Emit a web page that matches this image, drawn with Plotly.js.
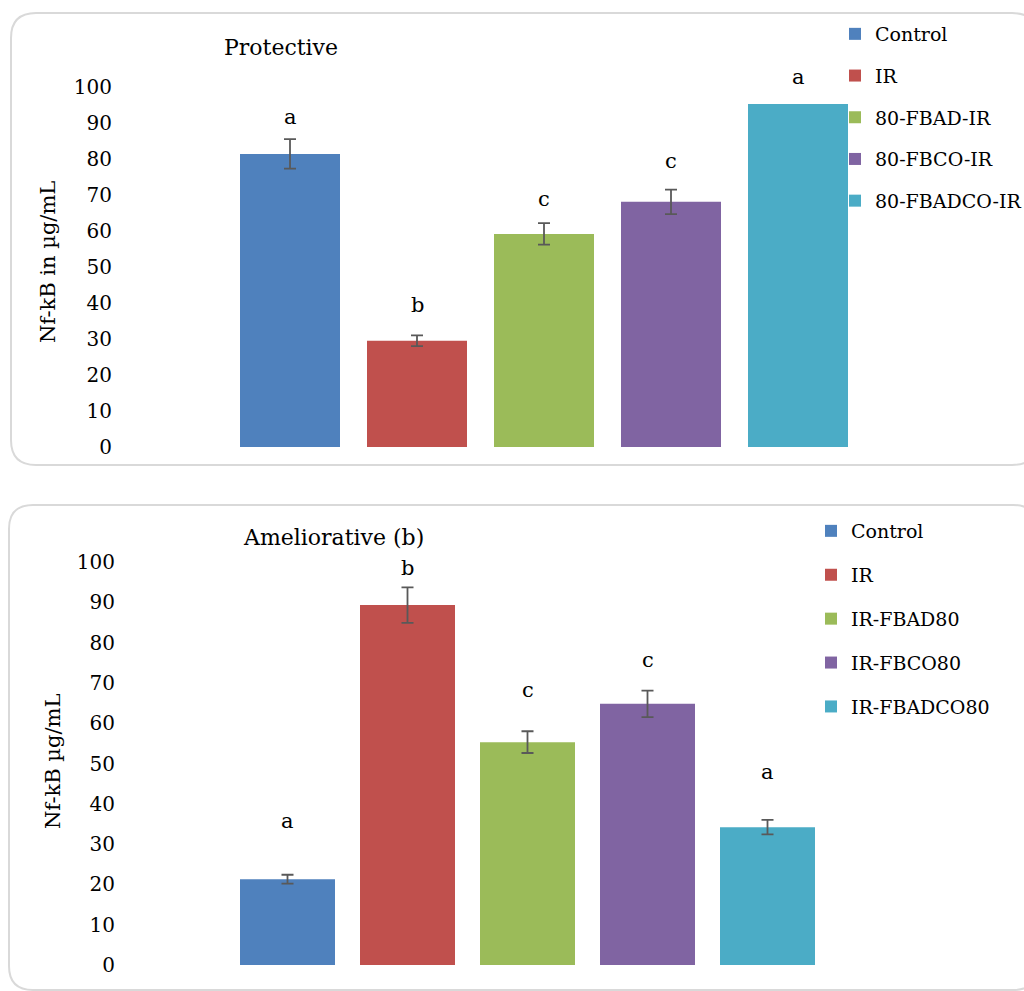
<!DOCTYPE html>
<html>
<head>
<meta charset="utf-8">
<script src="https://cdn.plot.ly/plotly-3.0.1.min.js"></script>
<style>html,body{margin:0;padding:0;background:#fff}#chart{width:1024px;height:991px}</style>
</head>
<body>
<div id="chart"></div>
<script>
// ---- data ----
const topTitle = 'Protective';
const topYTitle = 'Nf-kB in µg/mL';
const topCats = ['Control', 'IR', '80-FBAD-IR', '80-FBCO-IR', '80-FBADCO-IR'];
const topVals = [81.4, 29.5, 59.2, 68.1, 95.3];
const topErr = [4.1, 1.5, 3.0, 3.4, 0];
const topLetters = ['a', 'b', 'c', 'c', 'a'];
const topLetterY = [91.7, 39.4, 68.9, 79.4, 102.8];

const botTitle = 'Ameliorative (b)';
const botYTitle = 'Nf-kB µg/mL';
const botCats = ['Control', 'IR', 'IR-FBAD80', 'IR-FBCO80', 'IR-FBADCO80'];
const botVals = [21.3, 89.3, 55.3, 64.8, 34.2];
const botErr = [1.1, 4.4, 2.7, 3.3, 1.8];
const botLetters = ['a', 'b', 'c', 'c', 'a'];
const botLetterY = [35.7, 98.5, 68.2, 75.7, 47.9];

const yTicks = [0, 10, 20, 30, 40, 50, 60, 70, 80, 90, 100];

// ---- style ----
const colors = ['#4F81BD', '#C0504D', '#9BBB59', '#8064A2', '#4BACC6'];
const FONT = 'DejaVu Serif, Liberation Serif, serif';
const W = 1024, H = 991;
const px = x => x / W;
const py = y => 1 - y / H;

function roundRect(x0, y0, x1, y1, r) {
  const P = (x, y) => px(x) + ',' + py(y);
  return 'M' + P(x0 + r, y0) + ' L' + P(x1 - r, y0) + ' Q' + P(x1, y0) + ' ' + P(x1, y0 + r) +
    ' L' + P(x1, y1 - r) + ' Q' + P(x1, y1) + ' ' + P(x1 - r, y1) +
    ' L' + P(x0 + r, y1) + ' Q' + P(x0, y1) + ' ' + P(x0, y1 - r) +
    ' L' + P(x0, y0 + r) + ' Q' + P(x0, y0) + ' ' + P(x0 + r, y0) + ' Z';
}

const traces = [];
topCats.forEach((c, i) => {
  traces.push({
    type: 'bar', x: [c], y: [topVals[i]], name: c, xaxis: 'x', yaxis: 'y',
    width: 100 / 127, marker: {color: colors[i]},
    error_y: {type: 'data', array: [topErr[i]], visible: topErr[i] > 0, color: '#595959', thickness: 1.8, width: 6},
    legend: 'legend', legendgroup: 't' + i, hoverinfo: 'none'
  });
});
botCats.forEach((c, i) => {
  traces.push({
    type: 'bar', x: [c], y: [botVals[i]], name: c, xaxis: 'x2', yaxis: 'y2',
    width: 95 / 120, marker: {color: colors[i]},
    error_y: {type: 'data', array: [botErr[i]], visible: true, color: '#595959', thickness: 1.8, width: 6},
    legend: 'legend2', legendgroup: 'b' + i, hoverinfo: 'none'
  });
});

const annotations = [];
topCats.forEach((c, i) => annotations.push({
  xref: 'x', yref: 'y', x: c, y: topLetterY[i], text: topLetters[i], showarrow: false,
  font: {family: FONT, size: 21, color: '#000'}, yanchor: 'middle'
}));
botCats.forEach((c, i) => annotations.push({
  xref: 'x2', yref: 'y2', x: c, y: botLetterY[i], text: botLetters[i], showarrow: false,
  font: {family: FONT, size: 21, color: '#000'}, yanchor: 'middle'
}));
annotations.push({xref: 'paper', yref: 'paper', x: px(281), y: py(47), text: topTitle, showarrow: false,
  font: {family: FONT, size: 22, color: '#000'}, xanchor: 'center', yanchor: 'middle'});
annotations.push({xref: 'paper', yref: 'paper', x: px(333), y: py(537), text: botTitle, showarrow: false,
  font: {family: FONT, size: 22, color: '#000'}, xanchor: 'center', yanchor: 'middle'});
annotations.push({xref: 'paper', yref: 'paper', x: px(48), y: py(262), text: topYTitle, showarrow: false, textangle: -90,
  font: {family: FONT, size: 21, color: '#000'}, xanchor: 'center', yanchor: 'middle'});
annotations.push({xref: 'paper', yref: 'paper', x: px(53), y: py(762), text: botYTitle, showarrow: false, textangle: -90,
  font: {family: FONT, size: 21, color: '#000'}, xanchor: 'center', yanchor: 'middle'});

const yAxisCommon = {
  tickvals: yTicks, showgrid: false, zeroline: false, showline: false, ticks: '',
  tickfont: {family: FONT, size: 20, color: '#000'}, fixedrange: true, ticklabelstandoff: 2
};

const layout = {
  width: W, height: H, margin: {l: 0, r: 0, t: 0, b: 0, autoexpand: false},
  paper_bgcolor: '#fff', plot_bgcolor: 'rgba(0,0,0,0)',
  barmode: 'overlay', showlegend: true,
  xaxis: {domain: [px(115), px(860)], range: [-(290 - 115) / 127, (860 - 290) / 127], showticklabels: false,
    showgrid: false, zeroline: false, showline: false, ticks: '', anchor: 'y', type: 'category', fixedrange: true},
  yaxis: Object.assign({domain: [py(447), py(447 - 106 * 3.6)], range: [0, 106], anchor: 'x'}, yAxisCommon),
  xaxis2: {domain: [px(118), px(840)], range: [-(287.5 - 118) / 120, (840 - 287.5) / 120], showticklabels: false,
    showgrid: false, zeroline: false, showline: false, ticks: '', anchor: 'y2', type: 'category', fixedrange: true},
  yaxis2: Object.assign({domain: [py(965), py(965 - 104 * 4.03)], range: [0, 104], anchor: 'x2'}, yAxisCommon),
  legend: {x: px(835), y: py(15), xanchor: 'left', yanchor: 'top', bgcolor: 'rgba(0,0,0,0)',
    font: {family: FONT, size: 19, color: '#000'}, tracegroupgap: 14, itemclick: false, itemdoubleclick: false},
  legend2: {x: px(811), y: py(512), xanchor: 'left', yanchor: 'top', bgcolor: 'rgba(0,0,0,0)',
    font: {family: FONT, size: 19, color: '#000'}, tracegroupgap: 16.2, itemclick: false, itemdoubleclick: false},
  annotations: annotations,
  shapes: [
    {type: 'path', xref: 'paper', yref: 'paper', path: roundRect(11, 13, 1037, 465, 25), line: {color: '#d9d9d9', width: 2}, fillcolor: 'rgba(0,0,0,0)', layer: 'below'},
    {type: 'path', xref: 'paper', yref: 'paper', path: roundRect(9, 505, 1037, 990, 24), line: {color: '#d9d9d9', width: 2}, fillcolor: 'rgba(0,0,0,0)', layer: 'below'}
  ]
};

Plotly.newPlot('chart', traces, layout, {displayModeBar: false, staticPlot: true});
</script>
</body>
</html>
